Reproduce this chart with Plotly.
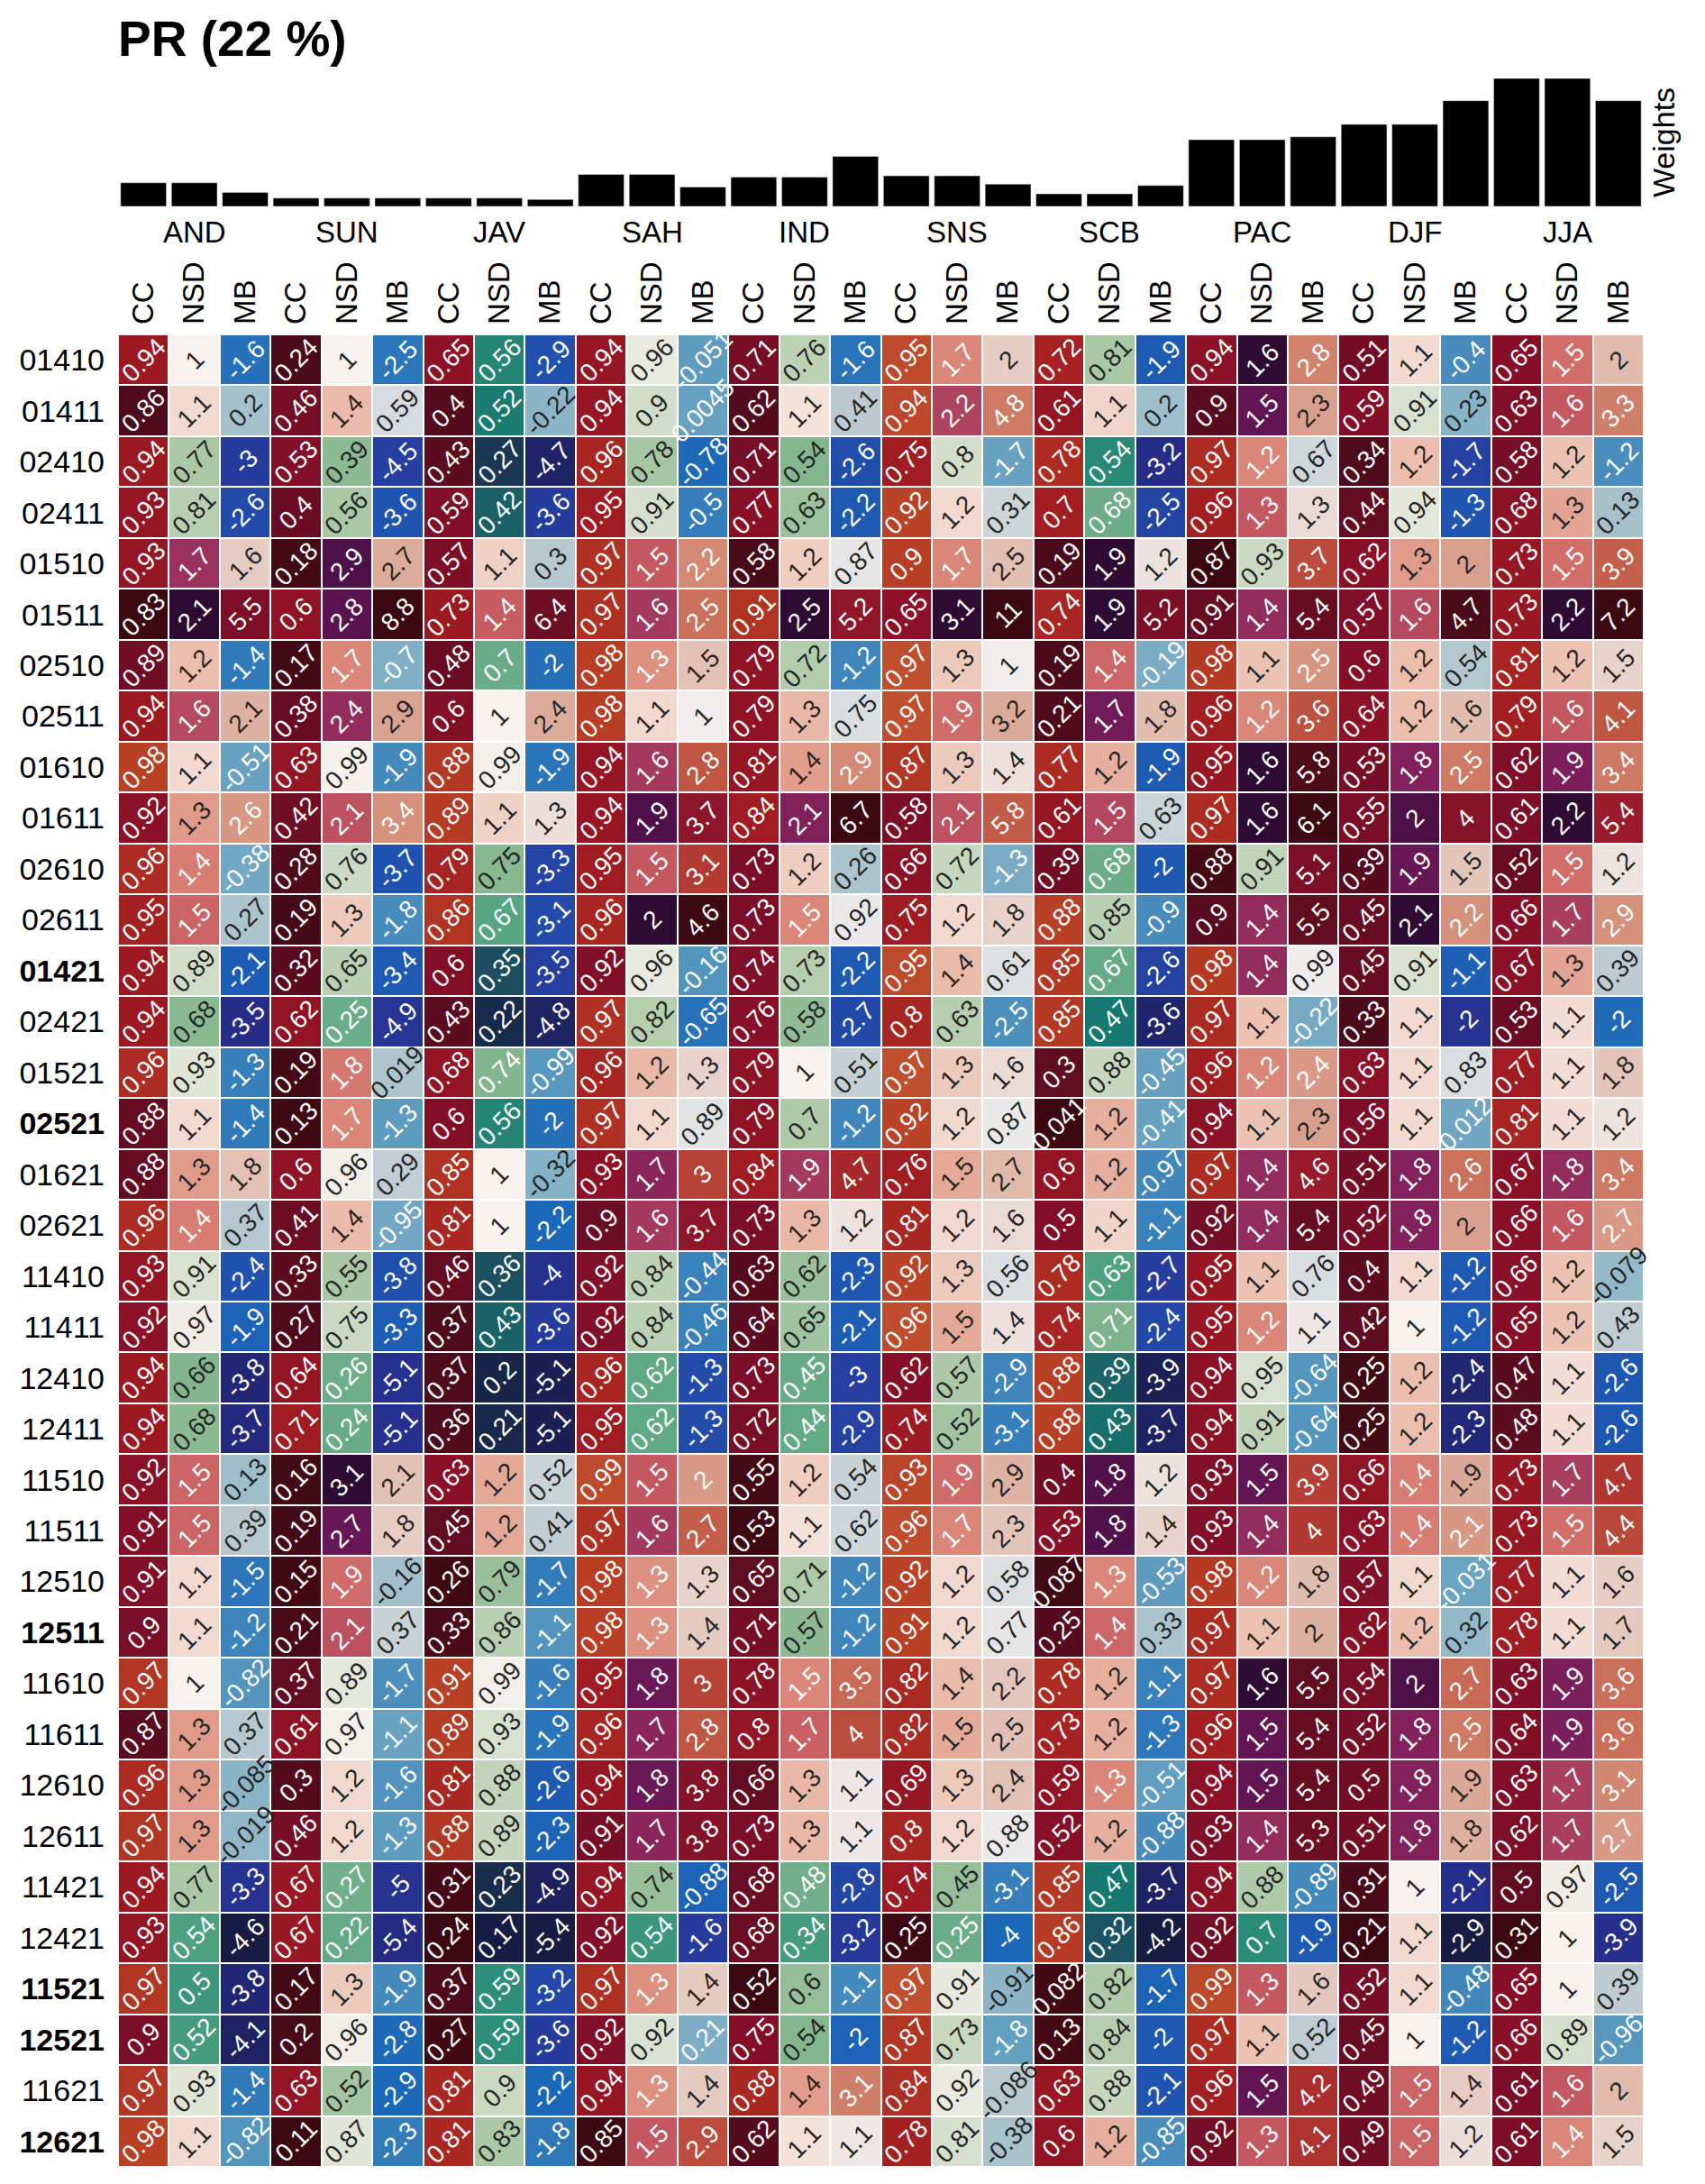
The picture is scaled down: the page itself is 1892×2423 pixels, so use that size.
"""
PR (22 %) score card: CC / NSD / MB per region and season, one row per
experiment, with the weight of every column drawn as bars on top.

Colours are normalised column by column, the way the original figure does it.
"""

import numpy as np
import plotly.graph_objects as go
from plotly.colors import sample_colorscale, unlabel_rgb

REGIONS = ["AND", "SUN", "JAV", "SAH", "IND", "SNS", "SCB", "PAC", "DJF", "JJA"]
METRICS = ["CC", "NSD", "MB"]

ROW_LABELS = [
    "01410", "01411", "02410", "02411", "01510", "01511", "02510", "02511",
    "01610", "01611", "02610", "02611", "01421", "02421", "01521", "02521",
    "01621", "02621", "11410", "11411", "12410", "12411", "11510", "11511",
    "12510", "12511", "11610", "11611", "12610", "12611", "11421", "12421",
    "11521", "12521", "11621", "12621",
]
BOLD_ROWS = ["01421", "02521", "12511", "11521", "12521", "12621"]

# weight of each column (AND CC, AND NSD, AND MB, SUN CC, ...)
WEIGHTS = [
    0.17, 0.17, 0.10,  0.06, 0.06, 0.06,  0.06, 0.06, 0.05,
    0.23, 0.23, 0.14,  0.21, 0.21, 0.36,  0.22, 0.22, 0.16,
    0.09, 0.09, 0.15,  0.48, 0.48, 0.50,  0.59, 0.59, 0.76,
    0.92, 0.92, 0.76,
]

# one list per experiment, 30 values in column order
r01410 = [0.94, 1, -1.6, 0.24, 1, -2.5, 0.65, 0.56, -2.9, 0.94, 0.96, -0.051, 0.71, 0.76, -1.6,
          0.95, 1.7, 2, 0.72, 0.81, -1.9, 0.94, 1.6, 2.8, 0.51, 1.1, -0.4, 0.65, 1.5, 2]
r01411 = [0.86, 1.1, 0.2, 0.46, 1.4, 0.59, 0.4, 0.52, -0.22, 0.94, 0.9, 0.0045, 0.62, 1.1, 0.41,
          0.94, 2.2, 4.8, 0.61, 1.1, 0.2, 0.9, 1.5, 2.3, 0.59, 0.91, 0.23, 0.63, 1.6, 3.3]
r02410 = [0.94, 0.77, -3, 0.53, 0.39, -4.5, 0.43, 0.27, -4.7, 0.96, 0.78, -0.78, 0.71, 0.54, -2.6,
          0.75, 0.8, -1.7, 0.78, 0.54, -3.2, 0.97, 1.2, 0.67, 0.34, 1.2, -1.7, 0.58, 1.2, -1.2]
r02411 = [0.93, 0.81, -2.6, 0.4, 0.56, -3.6, 0.59, 0.42, -3.6, 0.95, 0.91, -0.5, 0.77, 0.63, -2.2,
          0.92, 1.2, 0.31, 0.7, 0.68, -2.5, 0.96, 1.3, 1.3, 0.44, 0.94, -1.3, 0.68, 1.3, 0.13]
r01510 = [0.93, 1.7, 1.6, 0.18, 2.9, 2.7, 0.57, 1.1, 0.3, 0.97, 1.5, 2.2, 0.58, 1.2, 0.87,
          0.9, 1.7, 2.5, 0.19, 1.9, 1.2, 0.87, 0.93, 3.7, 0.62, 1.3, 2, 0.73, 1.5, 3.9]
r01511 = [0.83, 2.1, 5.5, 0.6, 2.8, 8.8, 0.73, 1.4, 6.4, 0.97, 1.6, 2.5, 0.91, 2.5, 5.2,
          0.65, 3.1, 11, 0.74, 1.9, 5.2, 0.91, 1.4, 5.4, 0.57, 1.6, 4.7, 0.73, 2.2, 7.2]
r02510 = [0.89, 1.2, -1.4, 0.17, 1.7, -0.7, 0.48, 0.7, -2, 0.98, 1.3, 1.5, 0.79, 0.72, -1.2,
          0.97, 1.3, 1, 0.19, 1.4, -0.19, 0.98, 1.1, 2.5, 0.6, 1.2, 0.54, 0.81, 1.2, 1.5]
r02511 = [0.94, 1.6, 2.1, 0.38, 2.4, 2.9, 0.6, 1, 2.4, 0.98, 1.1, 1, 0.79, 1.3, 0.75,
          0.97, 1.9, 3.2, 0.21, 1.7, 1.8, 0.96, 1.2, 3.6, 0.64, 1.2, 1.6, 0.79, 1.6, 4.1]
r01610 = [0.98, 1.1, -0.51, 0.63, 0.99, -1.9, 0.88, 0.99, -1.9, 0.94, 1.6, 2.8, 0.81, 1.4, 2.9,
          0.87, 1.3, 1.4, 0.77, 1.2, -1.9, 0.95, 1.6, 5.8, 0.53, 1.8, 2.5, 0.62, 1.9, 3.4]
r01611 = [0.92, 1.3, 2.6, 0.42, 2.1, 3.4, 0.89, 1.1, 1.3, 0.94, 1.9, 3.7, 0.84, 2.1, 6.7,
          0.58, 2.1, 5.8, 0.61, 1.5, 0.63, 0.97, 1.6, 6.1, 0.55, 2, 4, 0.61, 2.2, 5.4]
r02610 = [0.96, 1.4, -0.38, 0.28, 0.76, -3.7, 0.79, 0.75, -3.3, 0.95, 1.5, 3.1, 0.73, 1.2, 0.26,
          0.66, 0.72, -1.3, 0.39, 0.68, -2, 0.88, 0.91, 5.1, 0.39, 1.9, 1.5, 0.52, 1.5, 1.2]
r02611 = [0.95, 1.5, 0.27, 0.19, 1.3, -1.8, 0.86, 0.67, -3.1, 0.96, 2, 4.6, 0.73, 1.5, 0.92,
          0.75, 1.2, 1.8, 0.88, 0.85, -0.9, 0.9, 1.4, 5.5, 0.45, 2.1, 2.2, 0.66, 1.7, 2.9]
r01421 = [0.94, 0.89, -2.1, 0.32, 0.65, -3.4, 0.6, 0.35, -3.5, 0.92, 0.96, -0.16, 0.74, 0.73, -2.2,
          0.95, 1.4, 0.61, 0.85, 0.67, -2.6, 0.98, 1.4, 0.99, 0.45, 0.91, -1.1, 0.67, 1.3, 0.39]
r02421 = [0.94, 0.68, -3.5, 0.62, 0.25, -4.9, 0.43, 0.22, -4.8, 0.97, 0.82, -0.65, 0.76, 0.58, -2.7,
          0.8, 0.63, -2.5, 0.85, 0.47, -3.6, 0.97, 1.1, -0.22, 0.33, 1.1, -2, 0.53, 1.1, -2]
r01521 = [0.96, 0.93, -1.3, 0.19, 1.8, 0.019, 0.68, 0.74, -0.99, 0.96, 1.2, 1.3, 0.79, 1, 0.51,
          0.97, 1.3, 1.6, 0.3, 0.88, -0.45, 0.96, 1.2, 2.4, 0.63, 1.1, 0.83, 0.77, 1.1, 1.8]
r02521 = [0.88, 1.1, -1.4, 0.13, 1.7, -1.3, 0.6, 0.56, -2, 0.97, 1.1, 0.89, 0.79, 0.7, -1.2,
          0.92, 1.2, 0.87, 0.041, 1.2, -0.41, 0.94, 1.1, 2.3, 0.56, 1.1, 0.012, 0.81, 1.1, 1.2]
r01621 = [0.88, 1.3, 1.8, 0.6, 0.96, 0.29, 0.85, 1, -0.32, 0.93, 1.7, 3, 0.84, 1.9, 4.7,
          0.76, 1.5, 2.7, 0.6, 1.2, -0.97, 0.97, 1.4, 4.6, 0.51, 1.8, 2.6, 0.67, 1.8, 3.4]
r02621 = [0.96, 1.4, 0.37, 0.41, 1.4, -0.95, 0.81, 1, -2.2, 0.9, 1.6, 3.7, 0.73, 1.3, 1.2,
          0.81, 1.2, 1.6, 0.5, 1.1, -1.1, 0.92, 1.4, 5.4, 0.52, 1.8, 2, 0.66, 1.6, 2.7]
r11410 = [0.93, 0.91, -2.4, 0.33, 0.55, -3.8, 0.46, 0.36, -4, 0.92, 0.84, -0.44, 0.63, 0.62, -2.3,
          0.92, 1.3, 0.56, 0.78, 0.63, -2.7, 0.95, 1.1, 0.76, 0.4, 1.1, -1.2, 0.66, 1.2, -0.079]
r11411 = [0.92, 0.97, -1.9, 0.27, 0.75, -3.3, 0.37, 0.43, -3.6, 0.92, 0.84, -0.46, 0.64, 0.65, -2.1,
          0.96, 1.5, 1.4, 0.74, 0.71, -2.4, 0.95, 1.2, 1.1, 0.42, 1, -1.2, 0.65, 1.2, 0.43]
r12410 = [0.94, 0.66, -3.8, 0.64, 0.26, -5.1, 0.37, 0.2, -5.1, 0.96, 0.62, -1.3, 0.73, 0.45, -3,
          0.62, 0.57, -2.9, 0.88, 0.39, -3.9, 0.94, 0.95, -0.64, 0.25, 1.2, -2.4, 0.47, 1.1, -2.6]
r12411 = [0.94, 0.68, -3.7, 0.71, 0.24, -5.1, 0.36, 0.21, -5.1, 0.95, 0.62, -1.3, 0.72, 0.44, -2.9,
          0.74, 0.52, -3.1, 0.88, 0.43, -3.7, 0.94, 0.91, -0.64, 0.25, 1.2, -2.3, 0.48, 1.1, -2.6]
r11510 = [0.92, 1.5, 0.13, 0.16, 3.1, 2.1, 0.63, 1.2, 0.52, 0.99, 1.5, 2, 0.55, 1.2, 0.54,
          0.93, 1.9, 2.9, 0.4, 1.8, 1.2, 0.93, 1.5, 3.9, 0.66, 1.4, 1.9, 0.73, 1.7, 4.7]
r11511 = [0.91, 1.5, 0.39, 0.19, 2.7, 1.8, 0.45, 1.2, 0.41, 0.97, 1.6, 2.7, 0.53, 1.1, 0.62,
          0.96, 1.7, 2.3, 0.53, 1.8, 1.4, 0.93, 1.4, 4, 0.63, 1.4, 2.1, 0.73, 1.5, 4.4]
r12510 = [0.91, 1.1, -1.5, 0.15, 1.9, -0.16, 0.26, 0.79, -1.7, 0.98, 1.3, 1.3, 0.65, 0.71, -1.2,
          0.92, 1.2, 0.58, 0.087, 1.3, -0.53, 0.98, 1.2, 1.8, 0.57, 1.1, -0.031, 0.77, 1.1, 1.6]
r12511 = [0.9, 1.1, -1.2, 0.21, 2.1, 0.37, 0.33, 0.86, -1.1, 0.98, 1.3, 1.4, 0.71, 0.57, -1.2,
          0.91, 1.2, 0.77, 0.25, 1.4, 0.33, 0.97, 1.1, 2, 0.62, 1.2, 0.32, 0.78, 1.1, 1.7]
r11610 = [0.97, 1, -0.82, 0.37, 0.89, -1.7, 0.91, 0.99, -1.6, 0.95, 1.8, 3, 0.78, 1.5, 3.5,
          0.82, 1.4, 2.2, 0.78, 1.2, -1.1, 0.97, 1.6, 5.5, 0.54, 2, 2.7, 0.63, 1.9, 3.6]
r11611 = [0.87, 1.3, 0.37, 0.61, 0.97, -1.1, 0.89, 0.93, -1.9, 0.96, 1.7, 2.8, 0.8, 1.7, 4,
          0.82, 1.5, 2.5, 0.73, 1.2, -1.3, 0.96, 1.5, 5.4, 0.52, 1.8, 2.5, 0.64, 1.9, 3.6]
r12610 = [0.96, 1.3, -0.085, 0.3, 1.2, -1.6, 0.81, 0.88, -2.6, 0.94, 1.8, 3.8, 0.66, 1.3, 1.1,
          0.69, 1.3, 2.4, 0.59, 1.3, -0.51, 0.94, 1.5, 5.4, 0.5, 1.8, 1.9, 0.63, 1.7, 3.1]
r12611 = [0.97, 1.3, -0.019, 0.46, 1.2, -1.3, 0.88, 0.89, -2.3, 0.91, 1.7, 3.8, 0.73, 1.3, 1.1,
          0.8, 1.2, 0.88, 0.52, 1.2, -0.88, 0.93, 1.4, 5.3, 0.51, 1.8, 1.8, 0.62, 1.7, 2.7]
r11421 = [0.94, 0.77, -3.3, 0.67, 0.27, -5, 0.31, 0.23, -4.9, 0.94, 0.74, -0.88, 0.68, 0.48, -2.8,
          0.74, 0.45, -3.1, 0.85, 0.47, -3.7, 0.94, 0.88, -0.89, 0.31, 1, -2.1, 0.5, 0.97, -2.5]
r12421 = [0.93, 0.54, -4.6, 0.67, 0.22, -5.4, 0.24, 0.17, -5.4, 0.92, 0.54, -1.6, 0.68, 0.34, -3.2,
          0.25, 0.25, -4, 0.86, 0.32, -4.2, 0.92, 0.7, -1.9, 0.21, 1.1, -2.9, 0.31, 1, -3.9]
r11521 = [0.97, 0.5, -3.8, 0.17, 1.3, -1.9, 0.37, 0.59, -3.2, 0.97, 1.3, 1.4, 0.52, 0.6, -1.1,
          0.97, 0.91, -0.91, 0.082, 0.82, -1.7, 0.99, 1.3, 1.6, 0.52, 1.1, -0.48, 0.65, 1, 0.39]
r12521 = [0.9, 0.52, -4.1, 0.2, 0.96, -2.8, 0.27, 0.59, -3.6, 0.92, 0.92, 0.21, 0.75, 0.54, -2,
          0.87, 0.73, -1.8, 0.13, 0.84, -2, 0.97, 1.1, 0.52, 0.45, 1, -1.2, 0.66, 0.89, -0.96]
r11621 = [0.97, 0.93, -1.4, 0.63, 0.52, -2.9, 0.81, 0.9, -2.2, 0.94, 1.3, 1.4, 0.88, 1.4, 3.1,
          0.84, 0.92, -0.086, 0.63, 0.88, -2.1, 0.96, 1.5, 4.2, 0.49, 1.5, 1.4, 0.61, 1.6, 2]
r12621 = [0.98, 1.1, -0.82, 0.11, 0.87, -2.3, 0.81, 0.83, -1.8, 0.85, 1.5, 2.9, 0.62, 1.1, 1.1,
          0.78, 0.81, -0.38, 0.6, 1.2, -0.85, 0.92, 1.3, 4.1, 0.49, 1.5, 1.2, 0.61, 1.4, 1.5]

ROWS = [
    r01410, r01411, r02410, r02411, r01510, r01511, r02510, r02511,
    r01610, r01611, r02610, r02611, r01421, r02421, r01521, r02521,
    r01621, r02621, r11410, r11411, r12410, r12411, r11510, r11511,
    r12510, r12511, r11610, r11611, r12610, r12611, r11421, r12421,
    r11521, r12521, r11621, r12621,
]

# colour maps, roughly cmocean amp (reversed part), curl and balance
CC_SCALE = [
    [0.0, "#3c0912"], [0.18, "#4f0b1c"], [0.3, "#660c22"], [0.41, "#780e27"],
    [0.5, "#870f27"], [0.6, "#961623"], [0.67, "#a01b22"], [0.76, "#ab2a22"],
    [0.88, "#b84025"], [1.0, "#c45634"],
]
NSD_SCALE = [
    [0.0, "#151d44"], [0.05, "#1a3350"], [0.1, "#1c4a5e"], [0.15, "#1a6066"],
    [0.2, "#15766f"], [0.25, "#2a8c78"], [0.3, "#55a582"], [0.35, "#88b890"],
    [0.4, "#aecaa8"], [0.45, "#d2ddc8"], [0.5, "#f8f2ef"], [0.55, "#f2d8cd"],
    [0.6, "#e9b8a6"], [0.65, "#de9080"], [0.7, "#d3726c"], [0.75, "#c45860"],
    [0.8, "#a33a5e"], [0.85, "#8a255c"], [0.9, "#6b1857"], [0.95, "#4f1049"],
    [1.0, "#2e0b33"],
]
MB_SCALE = [
    [0.0, "#181c43"], [0.05, "#1e2366"], [0.1, "#262d8a"], [0.15, "#263fa0"],
    [0.2, "#1f53b0"], [0.25, "#1b67b8"], [0.3, "#3a82bb"], [0.35, "#5c9bbf"],
    [0.4, "#86b3c6"], [0.45, "#bccbd0"], [0.5, "#f1eded"], [0.55, "#e6cdc3"],
    [0.6, "#ddb0a0"], [0.65, "#d6937e"], [0.7, "#cc7560"], [0.75, "#c05542"],
    [0.8, "#b0352f"], [0.85, "#9b1b2b"], [0.9, "#7e0f27"], [0.95, "#5a0c1d"],
    [1.0, "#3c0912"],
]
SCALES = [CC_SCALE, NSD_SCALE, MB_SCALE]

FONT = "Liberation Sans, Arial, Helvetica, sans-serif"

# the page body has an 8 px margin, so the figure is drawn 8 px smaller
# and every page position below is shifted by that much
PAGE_PAD = 8
W, H = 1892 - 2 * PAGE_PAD, 2423 - 2 * PAGE_PAD
HEAT_LEFT, HEAT_RIGHT = 131, 1824
HEAT_TOP, HEAT_BOTTOM = 371, 2404
BAR_BASE, BAR_TOP, REGION_Y, TITLE_Y = 229, 87, 257, 43

M_L = HEAT_LEFT - PAGE_PAD
M_R = W - (HEAT_RIGHT - PAGE_PAD)
M_T = 0
M_B = H - (HEAT_BOTTOM - PAGE_PAD)


def normalise(values: np.ndarray) -> np.ndarray:
    """Column-wise 0..1 position in the colour map of its metric.

    Every column is centred on 1 with a symmetric range; CC never passes 1,
    so it only uses the lower half, which is stretched over its own map.
    """
    t = np.zeros_like(values)
    for j in range(values.shape[1]):
        col = values[:, j]
        d = np.abs(col - 1).max()
        half = 0.5 + (col - 1) / (2 * d)
        t[:, j] = 2 * half if j % 3 == 0 else half
    return np.clip(t, 0, 1)


def text_colour(scale, t: float) -> str:
    r, g, b = unlabel_rgb(sample_colorscale(scale, [t])[0])

    def lin(c):
        c = c / 255
        return c / 12.92 if c <= 0.04045 else ((c + 0.055) / 1.055) ** 2.4

    lum = 0.2126 * lin(r) + 0.7152 * lin(g) + 0.0722 * lin(b)
    return "#262626" if lum > 0.4 else "white"


def fmt(v: float) -> str:
    return f"{v:.2g}"


values = np.array(ROWS, dtype=float)
norm = normalise(values)
n_rows, n_cols = values.shape
xs = list(range(n_cols))
ys = list(range(n_rows))

col_labels = METRICS * len(REGIONS)
row_ticks = [f"<b>{r}</b>" if r in BOLD_ROWS else r for r in ROW_LABELS]

plot_h = H - M_T - M_B


def paper_y(page_px: float) -> float:
    """Page pixel row -> paper y coordinate."""
    px = page_px - PAGE_PAD
    return (plot_h - (px - M_T)) / plot_h


fig = go.Figure()

for kind, scale in enumerate(SCALES):
    z = [[norm[i, j] if j % 3 == kind else None for j in xs] for i in ys]
    cd = [[values[i, j] for j in xs] for i in ys]
    fig.add_trace(go.Heatmap(
        x=xs, y=ys, z=z, customdata=cd,
        zmin=0, zmax=1, colorscale=scale, showscale=False,
        xgap=2, ygap=2,
        hovertemplate="%{customdata}<extra></extra>",
        xaxis="x", yaxis="y",
    ))

fig.add_trace(go.Bar(
    x=xs, y=WEIGHTS, marker_color="black", width=0.9,
    xaxis="x2", yaxis="y2", hoverinfo="y", showlegend=False,
))

annotations = []
for i in ys:
    for j in xs:
        annotations.append(dict(
            x=j, y=i, xref="x", yref="y", text=fmt(values[i, j]),
            showarrow=False, textangle=-45,
            font=dict(family=FONT, size=28,
                      color=text_colour(SCALES[j % 3], norm[i, j])),
        ))

for g, region in enumerate(REGIONS):
    annotations.append(dict(
        x=3 * g + 1, y=paper_y(REGION_Y), xref="x", yref="paper",
        text=region, showarrow=False, yanchor="middle",
        font=dict(family=FONT, size=33, color="black"),
    ))

fig.update_layout(
    width=W, height=H,
    margin=dict(l=M_L, r=M_R, t=M_T, b=M_B),
    paper_bgcolor="white", plot_bgcolor="white",
    showlegend=False,
    title=dict(
        text="<b>PR (22 %)</b>", xref="paper", x=0, xanchor="left",
        yref="container", y=1 - (TITLE_Y - PAGE_PAD) / H, yanchor="middle",
        font=dict(family=FONT, size=55, color="black"),
    ),
    xaxis=dict(
        domain=[0, 1], range=[-0.5, n_cols - 0.5], anchor="y", side="top",
        tickmode="array", tickvals=xs, ticktext=col_labels, tickangle=-90,
        tickfont=dict(family=FONT, size=33, color="black"),
        ticks="", ticklabelstandoff=10,
        showgrid=False, zeroline=False, showline=False,
    ),
    yaxis=dict(
        domain=[0, paper_y(HEAT_TOP)], range=[n_rows - 0.5, -0.5], anchor="x",
        tickmode="array", tickvals=ys, ticktext=row_ticks,
        tickfont=dict(family=FONT, size=34, color="black"),
        ticks="", ticklabelstandoff=14,
        showgrid=False, zeroline=False, showline=False,
    ),
    xaxis2=dict(
        domain=[0, 1], range=[-0.5, n_cols - 0.5], anchor="y2",
        showticklabels=False, ticks="", showgrid=False, zeroline=False,
    ),
    yaxis2=dict(
        domain=[paper_y(BAR_BASE), paper_y(BAR_TOP)], range=[0, max(WEIGHTS)],
        anchor="x2", side="right",
        showticklabels=False, ticks="", showgrid=False, zeroline=False,
        title=dict(text="Weights", standoff=10,
                   font=dict(family=FONT, size=34, color="black")),
    ),
    annotations=annotations,
)

fig.write_html("out.html")
